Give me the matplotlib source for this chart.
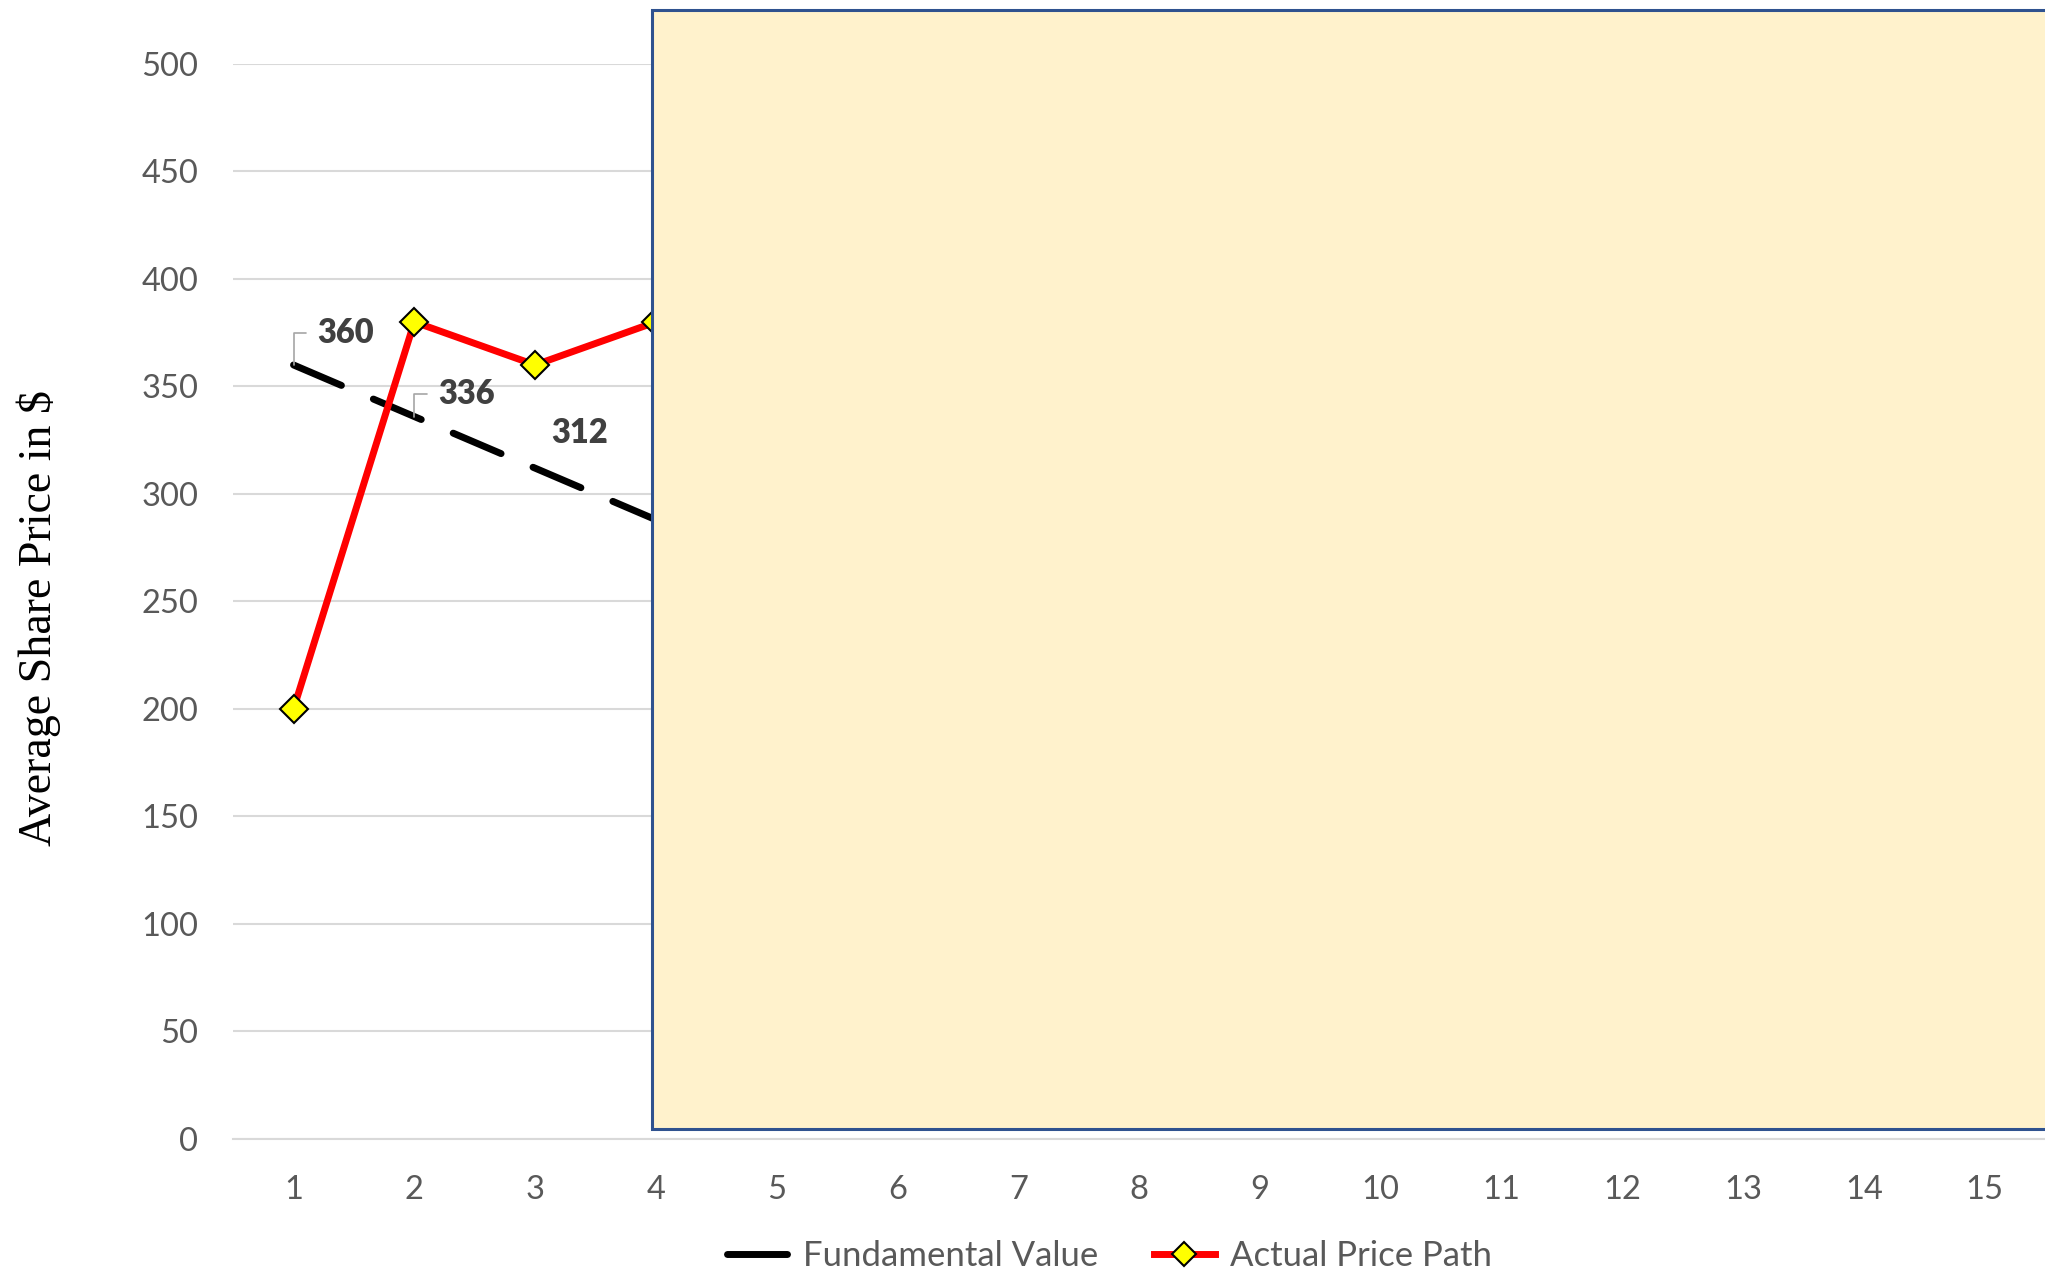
import matplotlib
matplotlib.use("Agg")
import matplotlib.pyplot as plt
from matplotlib.patches import Rectangle
from matplotlib.lines import Line2D

# ---- data ----
periods = list(range(1, 16))
fund_x = [1, 2, 3, 4]
fundamental = [360, 336, 312, 288]
price_x = [1, 2, 3, 4]
actual_price = [200, 380, 360, 380]
labels_x = [1, 2, 3]
labels_val = [360, 336, 312]
y_ticks = [0, 50, 100, 150, 200, 250, 300, 350, 400, 450, 500]

plt.rcParams['font.family'] = ['Lato', 'DejaVu Sans']

fig = plt.figure(figsize=(20.45, 12.74), dpi=100)
ax = fig.add_axes([0.114, 0.106, 0.886, 0.8438])

ax.set_xlim(0.5, 15.5)
ax.set_ylim(0, 500)
ax.set_xticks(periods)
ax.set_yticks(y_ticks)
ax.yaxis.grid(True, color='#D9D9D9', linewidth=1.5)
ax.set_axisbelow(True)
for s in ['top', 'right', 'left']:
    ax.spines[s].set_visible(False)
ax.spines['bottom'].set_color('#D9D9D9')
ax.spines['bottom'].set_linewidth(1.5)
ax.tick_params(axis='both', length=0, labelsize=23.5, labelcolor='#595959')
ax.tick_params(axis='y', pad=25)
ax.tick_params(axis='x', pad=26)

ax.plot(fund_x, fundamental, color='black', linewidth=5,
        dashes=(7.5, 5), dash_capstyle='round', zorder=3, clip_on=False)
ax.plot(price_x, actual_price, color='#FF0000', linewidth=5, marker='D',
        markersize=14, markerfacecolor='#FFFF00', markeredgecolor='black',
        markeredgewidth=1.5, zorder=4, clip_on=False)

offsets = [(17, 23, True), (17, 16, True), (11.5, 25, False)]
for xv, yv, (dx, dy, leader) in zip(labels_x, labels_val, offsets):
    kw = {}
    if leader:
        kw['arrowprops'] = dict(arrowstyle='-', color='#A6A6A6', linewidth=1.2,
                                connectionstyle='angle,angleA=0,angleB=90,rad=0',
                                shrinkA=6, shrinkB=0, relpos=(0, 0.5))
    ax.annotate(str(yv), xy=(xv, yv), xytext=(dx, dy), textcoords='offset points',
                ha='left', va='center', fontsize=23.5, fontweight='heavy',
                color='#404040', zorder=5, **kw)

fig.text(0.019, 0.515, 'Average Share Price in $', rotation=90, ha='center',
         va='center', fontsize=33, family=['Liberation Serif', 'DejaVu Serif'],
         color='black')

handles = [Line2D([0], [0], color='black', linewidth=5, solid_capstyle='round'),
           Line2D([0], [0], color='#FF0000', linewidth=5, marker='D', markersize=12,
                  markerfacecolor='#FFFF00', markeredgecolor='black',
                  markeredgewidth=1.5)]
fig.legend(handles, ['Fundamental Value', 'Actual Price Path'], loc='center',
           bbox_to_anchor=(0.5425, 0.014), ncol=2, frameon=False, fontsize=25,
           labelcolor='#595959', handlelength=1.75, handletextpad=0.45,
           columnspacing=1.6)

rect = Rectangle((0.3188, 0.1138), 0.75, 0.992 - 0.1138, transform=fig.transFigure,
                 facecolor='#FFF2CC', edgecolor='#2F528F', linewidth=2.2, zorder=10)
fig.add_artist(rect)

fig.savefig('out.png', dpi=100)
